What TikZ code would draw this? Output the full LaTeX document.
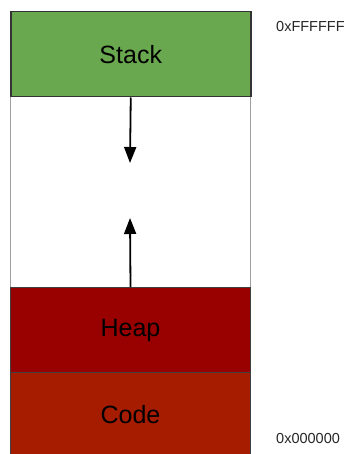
\documentclass[tikz,border=0pt]{standalone}
\usepackage{fontspec}
\setmainfont{Liberation Sans}
\usetikzlibrary{arrows.meta}
\definecolor{stackgreen}{HTML}{6AA84F}
\definecolor{heapred}{HTML}{990000}
\definecolor{codered}{HTML}{A61C00}
\definecolor{edgegray}{HTML}{9E9E9E}
\begin{document}
\begin{tikzpicture}[x=1pt,y=-1pt,
  segment/.style={rectangle, anchor=north west, minimum width=240pt, inner sep=0pt,
                  font=\fontsize{25}{28}\selectfont, text=black},
  growth/.style={line width=1.8pt, -{Triangle[length=16pt,width=12pt]}},
  addr/.style={anchor=west, inner sep=0pt, font=\fontsize{14.5}{17}\selectfont, text=black!85}
]
\useasboundingbox (0,0) rectangle (352,454);
% free region between stack and heap
\node[segment, minimum height=191pt, fill=white, draw=edgegray, line width=1pt] (free) at (10,96) {};
% memory segments
\node[segment, minimum height=85pt, fill=stackgreen, draw=black!80, line width=1.5pt] (stack) at (10,11) {Stack};
\node[segment, minimum height=85pt, fill=heapred, draw=black!75, line width=1pt] (heap) at (10,287) {Heap};
\node[segment, minimum height=84pt, fill=codered, draw=black!75, line width=1pt] (code) at (10,372) {Code};
% growth directions
\coordinate (downtip) at (130,163);
\coordinate (uptip) at (130,218);
\draw[growth] (stack.south) -- (downtip);
\draw[growth] (heap.north) -- (uptip);
% address labels
\node[addr] (top) at (276,27) {0xFFFFFF};
\node[addr] (bottom) at (276,439) {0x000000};
\end{tikzpicture}
\end{document}
